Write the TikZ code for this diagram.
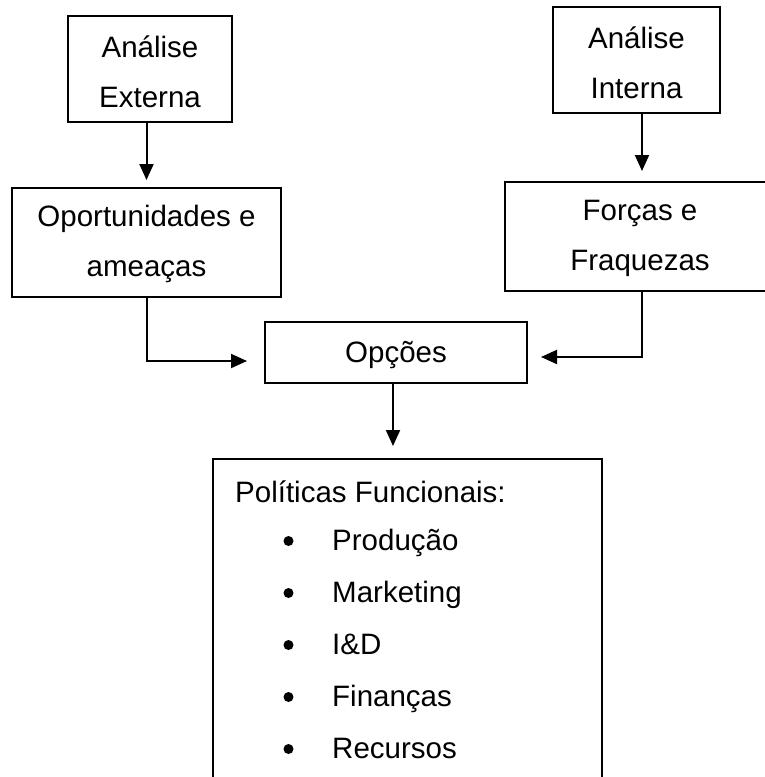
\documentclass[tikz,border=0pt]{standalone}
\usepackage{fontspec}
\setmainfont{Liberation Sans}
\usetikzlibrary{arrows.meta}
\begin{document}
\begin{tikzpicture}[x=1pt,y=-1pt,
  box/.style={draw, line width=2pt, inner sep=0pt},
  txt/.style={inner sep=0pt, align=center, font=\fontsize{29.5}{50}\selectfont},
  arr/.style={line width=2pt, -{Triangle[length=16pt,width=14pt]}},
  lbl/.style={inner sep=0pt, anchor=base west, font=\fontsize{29.5}{35}\selectfont},
  dot/.style={circle, fill, minimum size=10pt, inner sep=0pt},
]
\useasboundingbox (0,0) rectangle (765,777);
\clip (0,0) rectangle (765,777);

% analysis boxes and their texts
\node[box, minimum width=164pt, minimum height=106pt] (ae) at (150,69) {};
\node[txt] (aet) at (150,71.5) {Análise\\Externa};
\node[box, minimum width=167pt, minimum height=106pt] (ai) at (636.5,60) {};
\node[txt] (ait) at (636.5,63) {Análise\\Interna};
\node[box, minimum width=269pt, minimum height=109pt] (oa) at (146.5,242.5) {};
\node[txt] (oat) at (146.5,243.5) {Oportunidades e\\ameaças};
\node[box, minimum width=270pt, minimum height=109pt] (fo) at (640,236.5) {};
\node[txt] (fot) at (640,238.5) {Forças e\\Fraquezas};
\node[box, minimum width=262pt, minimum height=61pt] (op) at (396,352.5) {};
\node[txt] (opt) at (396,355) {Opções};

% functional policies
\node[box, minimum width=389pt, minimum height=341pt] (pf) at (407.5,629.5) {};
\node[lbl] (pft) at (235,502) {Políticas Funcionais:};
\node[lbl] (i1) at (332,550) {Produção};
\node[lbl] (i2) at (332,602) {Marketing};
\node[lbl] (i3) at (332,654) {I\&D};
\node[lbl] (i4) at (332,706.5) {Finanças};
\node[lbl] (i5) at (332,758) {Recursos};
\node[dot] (b1) at (288.5,541) {};
\node[dot] (b2) at (288.5,593) {};
\node[dot] (b3) at (288.5,645) {};
\node[dot] (b4) at (288.5,697) {};
\node[dot] (b5) at (288.5,749) {};

% connectors
\draw[arr, shorten >=7pt] (ae.south -| oa.north) -- (oa.north);
\draw[arr, shorten >=10pt] ([xshift=5.5pt]ai.south) -- ([xshift=5.5pt]ai.south |- fo.north);
\draw[arr, shorten >=17pt] (oa.south) |- ([yshift=-8.5pt]op.west);
\draw[arr, shorten >=13pt] ([xshift=2pt]fo.south) |- ([yshift=-4.5pt]op.east);
\draw[arr, shorten >=12pt] ([xshift=-3pt]op.south) -- ([xshift=-3pt]op.south |- pf.north);
\end{tikzpicture}
\end{document}
